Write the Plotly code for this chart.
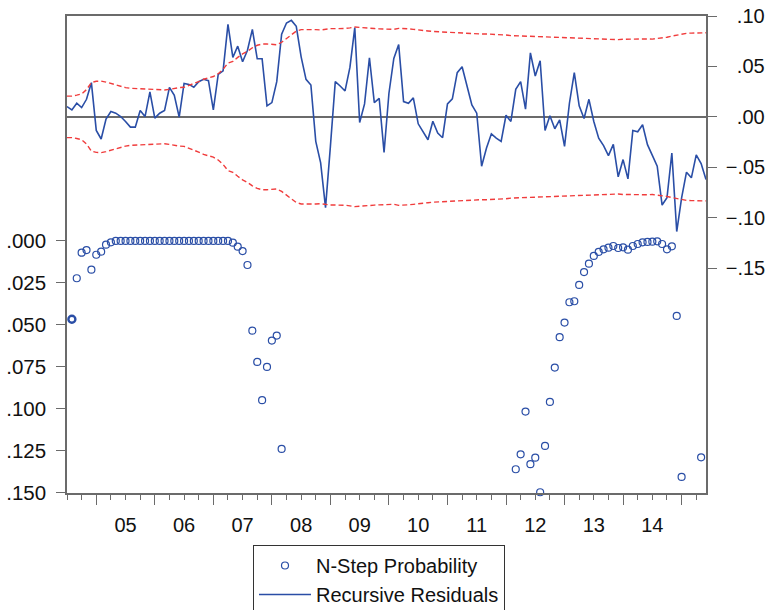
import plotly.graph_objects as go
import pandas as pd

# monthly sample 2004M07 - 2015M06
dates = pd.date_range("2004-07-01", "2015-06-01", freq="MS")
xdec = [d.year + (d.month - 1) / 12 for d in dates]

recursive_residuals = [
    0.0102, 0.0069, 0.0135, 0.0092, 0.0174, 0.0339, -0.0135, -0.0220, -0.0023, 0.0053,
    0.0036, 0.0003, -0.0046, -0.0102, -0.0102, 0.0063, 0.0003, 0.0247, -0.0013, 0.0036,
    0.0063, 0.0293, 0.0214, -0.0003, 0.0332, 0.0322, 0.0293, 0.0349, 0.0372, 0.0359,
    0.0069, 0.0421, 0.0457, 0.0918, 0.0589, 0.0701, 0.0546, 0.0661, 0.0868, 0.0576,
    0.0576, 0.0109, 0.0141, 0.0349, 0.0819, 0.0931, 0.0957, 0.0898, 0.0595, 0.0372,
    0.0316, -0.0243, -0.0457, -0.0901, -0.0293, 0.0349, 0.0306, 0.0257, 0.0490, 0.0885,
    -0.0056, 0.0128, 0.0586, 0.0141, 0.0184, -0.0352, 0.0234, 0.0579, 0.0717, 0.0151,
    0.0135, 0.0188, -0.0069, -0.0155, -0.0227, -0.0043, -0.0161, -0.0207, 0.0128, 0.0178,
    0.0438, 0.0497, 0.0316, 0.0118, 0.0036, -0.0490, -0.0309, -0.0168, -0.0211, -0.0243,
    0.0016, -0.0046, 0.0273, 0.0349, 0.0076, 0.0635, 0.0405, 0.0556, -0.0135, 0.0010,
    -0.0118, -0.0030, -0.0293, 0.0135, 0.0438, 0.0109, -0.0016, 0.0174, -0.0046, -0.0211,
    -0.0286, -0.0385, -0.0273, -0.0595, -0.0424, -0.0615, -0.0135, -0.0148, -0.0079, -0.0276,
    -0.0382, -0.0490, -0.0875, -0.0803, -0.0359, -0.1138, -0.0803, -0.0549, -0.0605, -0.0378,
    -0.0464, -0.0622,
]

two_se_band = [
    0.0206, 0.0206, 0.0215, 0.0227, 0.0270, 0.0340, 0.0353, 0.0355, 0.0345, 0.0330,
    0.0315, 0.0300, 0.0290, 0.0283, 0.0280, 0.0276, 0.0273, 0.0270, 0.0267, 0.0267,
    0.0267, 0.0273, 0.0283, 0.0290, 0.0293, 0.0310, 0.0326, 0.0350, 0.0373, 0.0390,
    0.0400, 0.0428, 0.0472, 0.0533, 0.0550, 0.0590, 0.0625, 0.0650, 0.0685, 0.0710,
    0.0723, 0.0723, 0.0717, 0.0715, 0.0740, 0.0777, 0.0820, 0.0850, 0.0865, 0.0867,
    0.0867, 0.0865, 0.0862, 0.0872, 0.0875, 0.0875, 0.0875, 0.0877, 0.0883, 0.0891,
    0.0887, 0.0881, 0.0877, 0.0876, 0.0873, 0.0871, 0.0870, 0.0868, 0.0878, 0.0878,
    0.0873, 0.0868, 0.0865, 0.0859, 0.0852, 0.0847, 0.0844, 0.0840, 0.0837, 0.0834,
    0.0834, 0.0830, 0.0829, 0.0829, 0.0826, 0.0822, 0.0822, 0.0821, 0.0817, 0.0814,
    0.0812, 0.0806, 0.0804, 0.0801, 0.0799, 0.0798, 0.0796, 0.0794, 0.0791, 0.0789,
    0.0788, 0.0788, 0.0785, 0.0785, 0.0781, 0.0780, 0.0778, 0.0775, 0.0771, 0.0768,
    0.0766, 0.0766, 0.0766, 0.0766, 0.0770, 0.0772, 0.0772, 0.0771, 0.0771, 0.0773,
    0.0771, 0.0775, 0.0783, 0.0790, 0.0801, 0.0812, 0.0824, 0.0829, 0.0831, 0.0832,
    0.0834, 0.0834,
]

N = None
nstep_probability = [
    N, 0.0466, 0.0222, 0.0070, 0.0054, 0.0171, 0.0082, 0.0064, 0.0022, 0.0008,
    0.0, 0.0, 0.0, 0.0, 0.0, 0.0, 0.0, 0.0, 0.0, 0.0,
    0.0, 0.0, 0.0, 0.0, 0.0, 0.0, 0.0, 0.0, 0.0, 0.0,
    0.0, 0.0, 0.0, 0.0, 0.0010, 0.0034, 0.0060, 0.0143, 0.0534, 0.0720,
    0.0948, 0.0750, 0.0593, 0.0563, 0.1238, N, N, N, N, N,
    N, N, N, N, N, N, N, N, N, N,
    N, N, N, N, N, N, N, N, N, N,
    N, N, N, N, N, N, N, N, N, N,
    N, N, N, N, N, N, N, N, N, N,
    N, N, 0.1359, 0.1270, 0.1016, 0.1329, 0.1290, 0.1496, 0.1220, 0.0958,
    0.0754, 0.0573, 0.0486, 0.0365, 0.0359, 0.0262, 0.0185, 0.0135, 0.0089, 0.0065,
    0.0050, 0.0040, 0.0030, 0.0042, 0.0038, 0.0052, 0.0030, 0.0018, 0.0008, 0.0006,
    0.0004, 0.0002, 0.0018, 0.0050, 0.0032, 0.0446, 0.1405, N, N, N,
    0.1288, N,
]

year_ticks = list(range(2005, 2016))
year_label_pos = [y + 0.5 for y in range(2005, 2015)]
year_labels = ["05", "06", "07", "08", "09", "10", "11", "12", "13", "14"]

left_vals = [0.0, 0.025, 0.05, 0.075, 0.10, 0.125, 0.15]
left_text = [".000", ".025", ".050", ".075", ".100", ".125", ".150"]
right_vals = [0.10, 0.05, 0.0, -0.05, -0.10, -0.15]
FS = "\u2007"
right_text = [FS + ".10", FS + ".05", FS + ".00", "\u2212.05", "\u2212.10", "\u2212.15"]

BLUE = "#2a4ea6"
RED = "#f03c3c"
AX = "#6b6b6b"
FONT = "Liberation Sans, Arial, sans-serif"

fig = go.Figure()
fig.add_trace(go.Scatter(x=xdec, y=two_se_band, xaxis="x2", yaxis="y2", mode="lines",
                         line=dict(color=RED, width=1.4, dash="5px,3px"),
                         showlegend=False, hoverinfo="skip"))
fig.add_trace(go.Scatter(x=xdec, y=[-v for v in two_se_band], xaxis="x2", yaxis="y2", mode="lines",
                         line=dict(color=RED, width=1.4, dash="5px,3px"),
                         showlegend=False, hoverinfo="skip"))
fig.add_trace(go.Scatter(x=xdec, y=recursive_residuals, xaxis="x", yaxis="y2", mode="lines",
                         line=dict(color=BLUE, width=1.6), name="Recursive Residuals",
                         legendrank=2))
widths = [2.4 if i == 1 else 1.2 for i in range(len(xdec))]
fig.add_trace(go.Scatter(x=xdec, y=nstep_probability, xaxis="x", yaxis="y", mode="markers",
                         marker=dict(symbol="circle-open", size=7, color=BLUE,
                                     line=dict(width=widths, color=BLUE)),
                         name="N-Step Probability", legendrank=1, cliponaxis=False))

xr = [xdec[0], xdec[-1]]
fig.update_layout(
    width=768, height=610,
    margin=dict(l=67, r=62, t=16, b=117, autoexpand=False),
    paper_bgcolor="white", plot_bgcolor="white",
    font=dict(family=FONT, size=20, color="#111"),
    xaxis=dict(range=xr, tickvals=year_ticks, ticktext=[""] * len(year_ticks),
               ticks="outside", ticklen=10, tickwidth=1.2, tickcolor=AX,
               showline=True, linecolor=AX, linewidth=1.5, mirror=True,
               showgrid=False, zeroline=False,
               minor=dict(dtick=0.25, tick0=2004.5, ticks="outside", ticklen=5,
                          tickwidth=1.2, tickcolor=AX, showgrid=False)),
    xaxis2=dict(range=xr, overlaying="x", anchor="y", side="bottom",
                tickvals=year_label_pos, ticktext=year_labels,
                ticks="outside", ticklen=14, tickcolor="rgba(0,0,0,0)",
                showline=False, showgrid=False, zeroline=False,
                tickfont=dict(size=20)),
    yaxis=dict(range=[0.15005, -0.13393], tickvals=left_vals, ticktext=left_text,
               ticks="outside", ticklen=9, tickwidth=1.2, tickcolor=AX,
               ticklabelstandoff=6,
               showline=True, linecolor=AX, linewidth=1.5,
               showgrid=False, zeroline=False, tickfont=dict(size=20.5)),
    yaxis2=dict(range=[-0.3732, 0.10005], overlaying="y", side="right", anchor="x",
                tickvals=right_vals, ticktext=right_text,
                ticks="outside", ticklen=9, tickwidth=1.2, tickcolor=AX,
                ticklabelstandoff=5,
                showline=True, linecolor=AX, linewidth=1.5,
                showgrid=False, zeroline=True, zerolinecolor=AX, zerolinewidth=1.5,
                tickfont=dict(size=20)),
    legend=dict(x=(253 - 67) / 639, y=(493 - 545) / 477, xanchor="left", yanchor="top",
                bordercolor="#333", borderwidth=1, bgcolor="white",
                font=dict(size=20), itemwidth=52, tracegroupgap=0,
                entrywidth=232, entrywidthmode="pixels"),
    showlegend=True,
)

fig.write_html("out.html")
